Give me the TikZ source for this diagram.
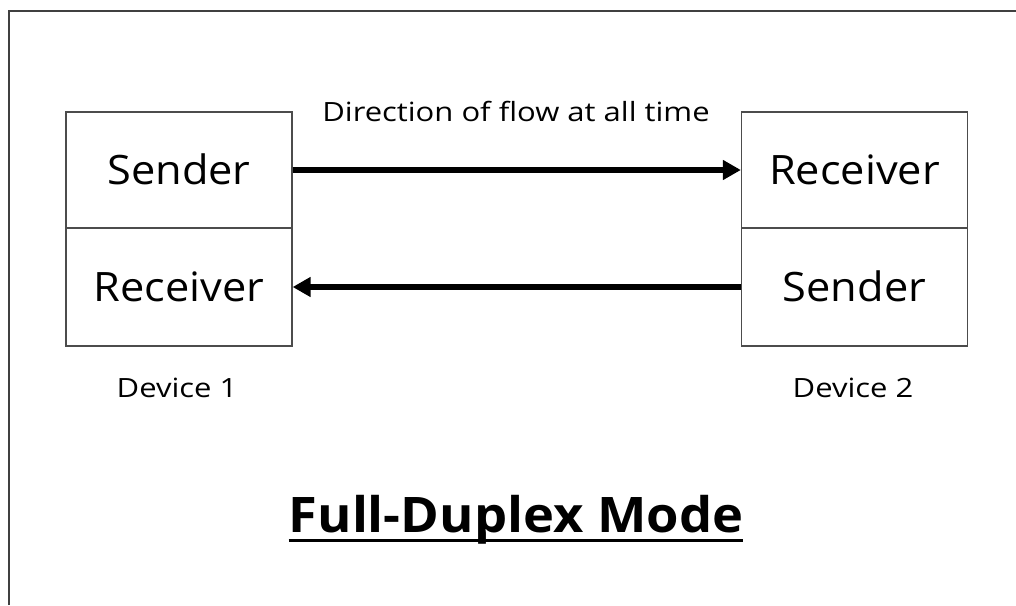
\documentclass[tikz,border=0pt]{standalone}
\usepackage{fontspec}
\setmainfont{Open Sans}
\newfontfamily\widefont{Open Sans}[FakeStretch=1.17]
\newfontfamily\bigfont{Open Sans}[FakeStretch=1.07]
\usetikzlibrary{arrows.meta}
\begin{document}
\begin{tikzpicture}[x=1pt,y=-1pt,
  half/.style={draw=black!70,line width=1.3pt,minimum width=226pt,inner sep=0pt,
    font=\bigfont\fontsize{40.5}{48}\selectfont,text height=29pt,text depth=0pt},
  small/.style={font=\widefont\fontsize{26.5}{32}\selectfont,inner sep=0pt,anchor=base},
  flow/.style={line width=6pt,-{Triangle[length=18pt,width=19pt]}}]
\useasboundingbox (0,0) rectangle (1016,605);
\draw[black!75,line width=1.3pt] (9,605) -- (9,11) -- (1016,11);
% Device 1
\node[half,minimum height=116pt] (s1) at (179,170) {Sender};
\node[half,minimum height=118pt] (r1) at (179,287) {Receiver};
% Device 2
\node[half,minimum height=116pt] (r2) at (854.5,170) {Receiver};
\node[half,minimum height=118pt] (s2) at (854.5,287) {Sender};
\draw[flow] (s1.east) -- (r2.west);
\draw[flow] (s2.west) -- (r1.east);
\node[small] (lab) at (516,121) {Direction of flow at all time};
\node[small] (d1) at (177,397) {Device 1};
\node[small] (d2) at (853,397) {Device 2};
\node[font=\bigfont\fontsize{49}{58}\selectfont\bfseries,inner sep=0pt,anchor=base] (title) at (516,532) {Full-Duplex Mode};
\draw[line width=3pt] ([yshift=-8pt]title.base west) -- ([yshift=-8pt]title.base east);
\end{tikzpicture}
\end{document}
